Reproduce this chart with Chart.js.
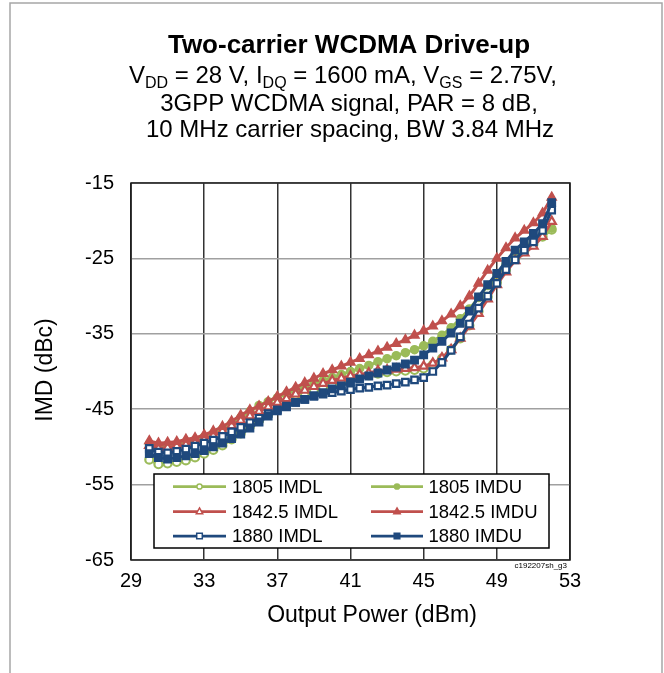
<!DOCTYPE html>
<html><head><meta charset="utf-8">
<script src="https://cdn.jsdelivr.net/npm/chart.js@4.4.1/dist/chart.umd.min.js"></script>
<style>html,body{margin:0;padding:0;background:#fff}#wrap{width:664px;height:673px}</style>
</head><body><div id="wrap"><canvas id="c" width="664" height="673"></canvas></div>
<script>
const power = [30,30.5,31,31.5,32,32.5,33,33.5,34,34.5,35,35.5,36,36.5,37,37.5,38,38.5,39,39.5,40,40.5,41,41.5,42,42.5,43,43.5,44,44.5,45,45.5,46,46.5,47,47.5,48,48.5,49,49.5,50,50.5,51,51.5,52];
const xTicks = [29,33,37,41,45,49,53];
const yTicks = [-65,-55,-45,-35,-25,-15];
const imdl1805 = [-51.7,-52.3,-52.2,-52.0,-51.8,-51.4,-50.9,-50.4,-49.8,-49.0,-48.2,-47.3,-46.5,-45.7,-45.0,-44.4,-43.8,-43.2,-42.6,-42.1,-41.7,-41.3,-41.0,-40.7,-40.5,-40.3,-40.1,-40.0,-39.9,-39.8,-39.6,-39.1,-38.3,-37.1,-35.6,-33.9,-32.0,-30.1,-28.2,-26.5,-25.0,-24.0,-23.1,-22.1,-21.2];
const imdu1805 = [-49.6,-49.9,-49.9,-49.7,-49.4,-49.1,-48.7,-48.2,-47.6,-46.9,-46.1,-45.3,-44.5,-44.0,-43.5,-43.0,-42.5,-42.0,-41.6,-41.2,-40.8,-40.4,-40.0,-39.6,-39.2,-38.7,-38.3,-37.9,-37.5,-37.1,-36.6,-36.0,-35.2,-34.2,-33.0,-31.7,-30.2,-28.6,-27.1,-25.8,-24.6,-23.6,-22.7,-21.8,-21.0];
const imdl1842 = [-49.8,-50.2,-50.1,-49.9,-49.7,-49.4,-49.0,-48.5,-47.9,-47.2,-46.5,-45.9,-45.3,-44.7,-44.1,-43.6,-43.0,-42.5,-42.0,-41.6,-41.2,-40.9,-40.6,-40.4,-40.2,-39.9,-39.8,-39.7,-39.6,-39.5,-39.3,-38.9,-38.2,-37.1,-35.6,-34.0,-32.3,-30.4,-28.5,-26.8,-25.3,-24.3,-23.4,-22.1,-20.1];
const imdu1842 = [-49.2,-49.5,-49.4,-49.3,-49.0,-48.8,-48.4,-47.9,-47.3,-46.6,-45.8,-45.1,-44.6,-44.0,-43.3,-42.7,-42.1,-41.5,-40.9,-40.3,-39.8,-39.3,-38.8,-38.3,-37.8,-37.3,-36.8,-36.3,-35.8,-35.2,-34.6,-34.0,-33.3,-32.4,-31.3,-30.0,-28.3,-26.6,-25.0,-23.6,-22.3,-21.3,-20.3,-19.0,-16.9];
const imdl1880 = [-50.2,-50.7,-50.8,-50.6,-50.3,-49.9,-49.5,-49.1,-48.6,-48.0,-47.4,-46.8,-46.2,-45.6,-45.1,-44.6,-44.1,-43.7,-43.3,-43.0,-42.8,-42.6,-42.4,-42.2,-42.1,-41.9,-41.8,-41.6,-41.4,-41.1,-40.8,-40.0,-38.8,-37.2,-35.4,-33.7,-31.6,-30.0,-28.3,-26.5,-25.2,-23.9,-22.8,-21.3,-18.6];
const imdu1880 = [-50.9,-51.4,-51.6,-51.4,-51.2,-50.9,-50.5,-50.0,-49.5,-48.9,-48.3,-47.5,-46.7,-45.9,-45.2,-44.7,-44.1,-43.7,-43.2,-42.8,-42.3,-41.9,-41.4,-41.0,-40.6,-40.2,-39.8,-39.4,-39.0,-38.5,-37.8,-36.9,-36.0,-34.9,-33.6,-32.0,-30.1,-28.5,-27.0,-25.4,-23.9,-22.8,-21.7,-20.4,-17.6];

const GREEN = '#9BBB59', RED = '#C0504D', BLUE = '#1F497D';
const FONT = '"Liberation Sans", Arial, Helvetica, sans-serif';

function pts(arr) { return power.map((p, i) => ({ x: p, y: arr[i] })); }

function ds(label, arr, color, style, open, radius, order) {
  return {
    label, data: pts(arr), borderColor: color, backgroundColor: color,
    borderWidth: 3, pointStyle: style, pointRadius: radius, pointHoverRadius: radius,
    pointBackgroundColor: open ? '#fff' : color, pointBorderColor: color,
    pointBorderWidth: open ? 2.2 : 1.5, tension: 0, order, _open: open
  };
}

const datasets = [
  ds('1805 IMDL', imdl1805, GREEN, 'circle', true, 4, 6),
  ds('1805 IMDU', imdu1805, GREEN, 'circle', false, 4, 5),
  ds('1842.5 IMDL', imdl1842, RED, 'triangle', true, 4.8, 4),
  ds('1842.5 IMDU', imdu1842, RED, 'triangle', false, 5.2, 3),
  ds('1880 IMDL', imdl1880, BLUE, 'rect', true, 4.6, 2),
  ds('1880 IMDU', imdu1880, BLUE, 'rect', false, 5.2, 1)
];

function drawRich(ctx, segs, cx, baseline, size, subSize, subDrop) {
  let total = 0;
  const widths = segs.map(([t, sub]) => {
    ctx.font = (sub ? subSize : size) + 'px ' + FONT;
    const w = ctx.measureText(t).width; total += w; return w;
  });
  let x = cx - total / 2;
  ctx.textAlign = 'left'; ctx.textBaseline = 'alphabetic';
  segs.forEach(([t, sub], i) => {
    ctx.font = (sub ? subSize : size) + 'px ' + FONT;
    ctx.fillText(t, x, baseline + (sub ? subDrop : 0));
    x += widths[i];
  });
}

function marker(ctx, style, x, y, s, open, color) {
  ctx.save();
  ctx.fillStyle = open ? '#fff' : color; ctx.strokeStyle = color; ctx.lineWidth = 1.5;
  ctx.beginPath();
  if (style === 'circle') ctx.arc(x, y, s, 0, Math.PI * 2);
  else if (style === 'rect') ctx.rect(x - s, y - s, 2 * s, 2 * s);
  else { ctx.moveTo(x, y - s * 1.1); ctx.lineTo(x + s, y + s * 0.7); ctx.lineTo(x - s, y + s * 0.7); ctx.closePath(); }
  ctx.fill(); ctx.stroke();
  ctx.restore();
}

const deco = {
  id: 'deco',
  beforeDraw(chart) {
    const ctx = chart.ctx;
    ctx.save();
    ctx.fillStyle = '#fff'; ctx.fillRect(0, 0, chart.width, chart.height);
    ctx.strokeStyle = '#a6a6a6'; ctx.lineWidth = 1.5;
    ctx.beginPath(); ctx.moveTo(10, 680); ctx.lineTo(10, 3); ctx.lineTo(662, 3); ctx.lineTo(662, 680); ctx.stroke();
    ctx.restore();
  },
  afterDraw(chart) {
    const ctx = chart.ctx, a = chart.chartArea;
    ctx.save();
    ctx.strokeStyle = '#1a1a1a'; ctx.lineWidth = 1.5;
    ctx.strokeRect(a.left, a.top, a.right - a.left, a.bottom - a.top);
    ctx.fillStyle = '#000';
    ctx.textAlign = 'center'; ctx.textBaseline = 'alphabetic';
    ctx.font = 'bold 26px ' + FONT;
    ctx.fillText('Two-carrier WCDMA Drive-up', 349, 53);
    drawRich(ctx, [['V', 0], ['DD', 1], [' = 28 V, I', 0], ['DQ', 1], [' = 1600 mA, V', 0], ['GS', 1], [' = 2.75V,', 0]], 343, 83, 24, 16, 5);
    ctx.font = '24px ' + FONT; ctx.textAlign = 'center';
    ctx.fillText('3GPP WCDMA signal, PAR = 8 dB,', 349, 111);
    ctx.fillText('10 MHz carrier spacing, BW 3.84 MHz', 350, 137);
    ctx.font = '23px ' + FONT; ctx.textBaseline = 'middle';
    ctx.fillText('Output Power (dBm)', 372, 616);
    ctx.save(); ctx.translate(46, 370); ctx.rotate(-Math.PI / 2);
    ctx.fillText('IMD (dBc)', 0, 0); ctx.restore();
    ctx.font = '8px ' + FONT; ctx.textAlign = 'right'; ctx.textBaseline = 'alphabetic';
    ctx.fillText('c192207sh_g3', 567, 568);
    const L = { x: 154, y: 474, w: 395, h: 74 };
    ctx.fillStyle = '#fff'; ctx.fillRect(L.x, L.y, L.w, L.h);
    ctx.strokeStyle = '#000'; ctx.lineWidth = 1.5; ctx.strokeRect(L.x, L.y, L.w, L.h);
    const rows = [486.5, 511.5, 536];
    const cols = [{ l0: 173, l1: 226, m: 199.5, t: 232 }, { l0: 371, l1: 423, m: 397, t: 428.5 }];
    chart.data.datasets.forEach((d, i) => {
      const c = cols[i % 2], y = rows[Math.floor(i / 2)];
      ctx.strokeStyle = d.borderColor; ctx.lineWidth = 2.75;
      ctx.beginPath(); ctx.moveTo(c.l0, y); ctx.lineTo(c.l1, y); ctx.stroke();
      const s = d.pointStyle === 'circle' ? 2.6 : d.pointStyle === 'rect' ? 2.8 : 3.2;
      marker(ctx, d.pointStyle, c.m, y, s, d._open, d.borderColor);
      ctx.fillStyle = '#000'; ctx.font = '18.5px ' + FONT; ctx.textAlign = 'left'; ctx.textBaseline = 'middle';
      ctx.fillText(d.label, c.t, y + 1);
    });
    ctx.restore();
  }
};

new Chart(document.getElementById('c'), {
  type: 'line',
  data: { datasets },
  options: {
    responsive: false, animation: false, devicePixelRatio: 1,
    layout: { padding: { left: 0, right: 94, top: 183, bottom: 0 } },
    plugins: { legend: { display: false }, title: { display: false }, tooltip: { enabled: false } },
    scales: {
      x: {
        type: 'linear', min: 29, max: 53,
        afterBuildTicks: s => { s.ticks = xTicks.map(v => ({ value: v })); },
        afterFit: s => { s.height = 113; },
        grid: { color: '#333', lineWidth: 1.5, drawTicks: false },
        border: { display: false },
        ticks: { color: '#000', font: { family: FONT, size: 20 }, padding: 9, maxRotation: 0 }
      },
      y: {
        type: 'linear', min: -65, max: -15,
        afterBuildTicks: s => { s.ticks = yTicks.map(v => ({ value: v })); },
        afterFit: s => { s.width = 131; },
        grid: { color: '#a0a0a0', lineWidth: 1.5, drawTicks: false },
        border: { display: false },
        ticks: { color: '#000', font: { family: FONT, size: 20 }, padding: 17 }
      }
    }
  },
  plugins: [deco]
});
</script></body></html>
